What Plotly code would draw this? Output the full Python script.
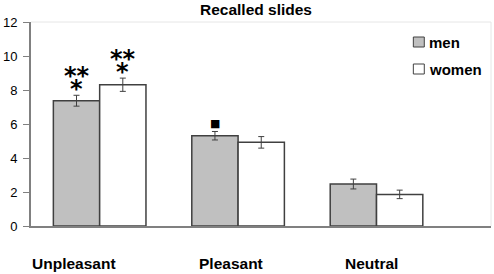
import plotly.graph_objects as go

categories = ["Unpleasant", "Pleasant", "Neutral"]
men = [7.37, 5.31, 2.47]
women = [8.31, 4.92, 1.86]
men_err = [0.32, 0.25, 0.29]
women_err = [0.39, 0.34, 0.25]
y_ticks = [0, 2, 4, 6, 8, 10, 12]

xpos = list(range(len(categories)))

fig = go.Figure()
fig.add_trace(go.Bar(
    x=xpos, y=men, name="men",
    marker=dict(color="#c0c0c0", line=dict(color="#404040", width=1.5)),
    error_y=dict(type="data", array=men_err, color="#404040", thickness=1, width=3),
    showlegend=False,
))
fig.add_trace(go.Bar(
    x=xpos, y=women, name="women",
    marker=dict(color="#ffffff", line=dict(color="#404040", width=1.5)),
    error_y=dict(type="data", array=women_err, color="#404040", thickness=1, width=3),
    showlegend=False,
))

ann = []
label_off = [-0.187, -0.05, -0.036]
for i, c in enumerate(categories):
    ann.append(dict(x=i + label_off[i], y=-(263 - 226) / 204, xref="x", yref="paper",
                    text="<b>%s</b>" % c, showarrow=False,
                    font=dict(family="Liberation Sans, Arial", size=15.5, color="black"),
                    yanchor="middle"))
# significance markers
star_font = dict(family="DejaVu Sans", size=24, color="black")
for xc, y1, y2 in [(-0.1667, 8.85, 8.07), (0.1667, 9.8, 9.05)]:
    ann.append(dict(x=xc, y=y1, xref="x", yref="y", text="<b>**</b>", showarrow=False,
                    font=star_font, yanchor="middle"))
    ann.append(dict(x=xc, y=y2, xref="x", yref="y", text="<b>*</b>", showarrow=False,
                    font=star_font, yanchor="middle"))
ann.append(dict(x=1 - 0.1667, y=6.03, xref="x", yref="y", text="■", showarrow=False,
                font=dict(family="DejaVu Sans", size=11, color="black"), yanchor="middle"))

# legend (manual)
shapes = []
leg = [("men", "#c0c0c0", 42), ("women", "#ffffff", 69)]
for name, col, ypx in leg:
    shapes.append(dict(type="rect", xref="paper", yref="paper",
                       x0=(413 - 29) / 462, x1=(424 - 29) / 462,
                       y0=(226 - ypx - 5) / 204, y1=(226 - ypx + 5) / 204,
                       fillcolor=col, line=dict(color="#404040", width=1)))
    ann.append(dict(x=(427 - 29) / 462, y=(226 - ypx) / 204, xref="paper", yref="paper",
                    text="<b>%s</b>" % name, showarrow=False, xanchor="left", yanchor="middle",
                    font=dict(family="Liberation Sans, Arial", size=15, color="black")))

fig.update_layout(
    width=494, height=274,
    margin=dict(l=29, r=3, t=22, b=48),
    paper_bgcolor="white", plot_bgcolor="white",
    barmode="group", bargap=0.331, bargroupgap=0,
    title=dict(text="<b>Recalled slides</b>", x=256 / 494, xanchor="center", y=1 - 10 / 274,
               yanchor="middle", font=dict(family="Liberation Sans, Arial", size=15.5, color="black")),
    xaxis=dict(range=[-0.496, 2.827], showticklabels=False, showgrid=False, zeroline=False,
               showline=True, linecolor="#808080", linewidth=2, ticks="",
               mirror=False),
    yaxis=dict(range=[0, 12], tickvals=y_ticks, showgrid=False, zeroline=False,
               showline=True, linecolor="#808080", linewidth=2, ticks="outside", ticklen=6,
               tickcolor="#808080", tickwidth=1, ticklabelstandoff=3,
               tickfont=dict(family="Liberation Sans, Arial", size=13, color="black")),
    annotations=ann,
    shapes=shapes + [
        dict(type="line", xref="paper", yref="paper", x0=0, x1=1, y0=1, y1=1,
             line=dict(color="#e6e6e6", width=1)),
        dict(type="line", xref="paper", yref="paper", x0=1, x1=1, y0=0, y1=1,
             line=dict(color="#e6e6e6", width=1)),
    ],
)

fig.write_html("out.html", config={"displayModeBar": False},
               post_script="document.body.style.margin='0';document.body.style.overflow='hidden';")
